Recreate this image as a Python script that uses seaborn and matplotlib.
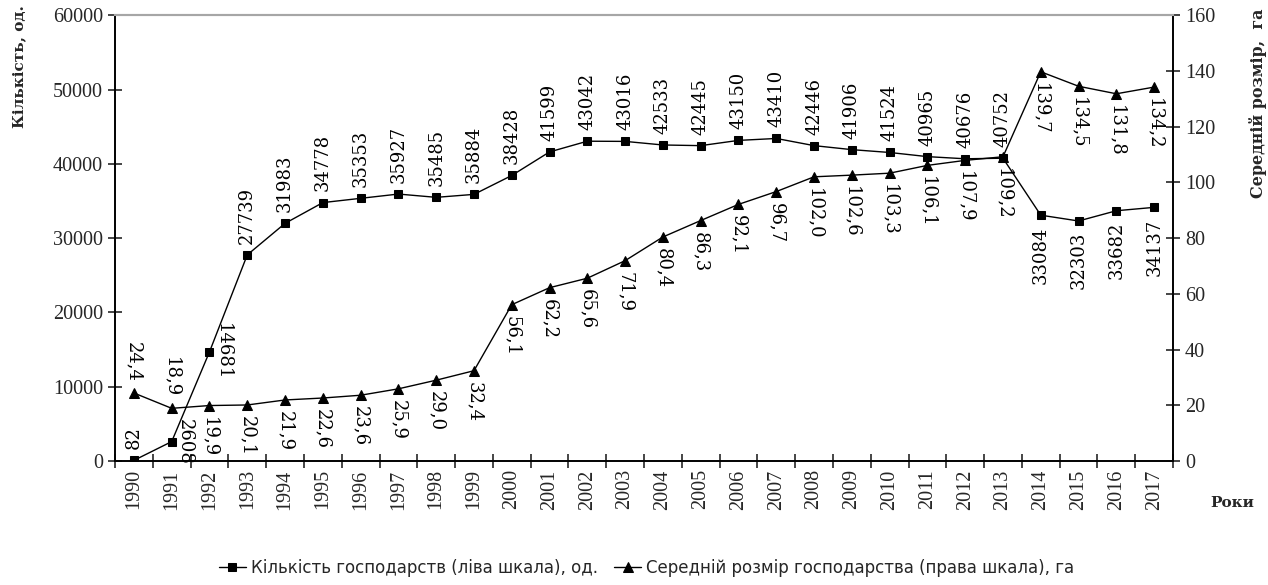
import numpy as np
import pandas as pd
import seaborn as sns
import matplotlib.pyplot as plt
from matplotlib.ticker import MultipleLocator, FixedLocator

# data
years = list(range(1990, 2018))
farms_count = [82, 2608, 14681, 27739, 31983, 34778, 35353, 35927, 35485, 35884,
               38428, 41599, 43042, 43016, 42533, 42445, 43150, 43410, 42446, 41906,
               41524, 40965, 40676, 40752, 33084, 32303, 33682, 34137]
avg_size = [24.4, 18.9, 19.9, 20.1, 21.9, 22.6, 23.6, 25.9, 29.0, 32.4,
            56.1, 62.2, 65.6, 71.9, 80.4, 86.3, 92.1, 96.7, 102.0, 102.6,
            103.3, 106.1, 107.9, 109.2, 139.7, 134.5, 131.8, 134.2]
count_name = "Кількість господарств (ліва шкала), од."
size_name = "Середній розмір господарства (права шкала), га"
left_title = "Кількість, од."
right_title = "Середній розмір,  га"
x_title = "Роки"

sns.set_style("ticks")
plt.rcParams['font.family'] = ['Liberation Serif', 'DejaVu Serif']
plt.rcParams['axes.linewidth'] = 1.2

df = pd.DataFrame({
    'pos': np.arange(len(years)),
    'year': years,
    'count': farms_count,
    'size': avg_size,
})

fig = plt.figure(figsize=(12.68, 5.85), dpi=100)
ax = fig.add_axes([0.0907, 0.212, 0.8344, 0.762])
ax2 = ax.twinx()

sns.lineplot(data=df, x='pos', y='count', ax=ax, color='black', marker='s',
             markersize=6, markeredgecolor='black', linewidth=1.0)
sns.lineplot(data=df, x='pos', y='size', ax=ax2, color='black', marker='^',
             markersize=7, markeredgecolor='black', linewidth=1.0)
count_line = ax.lines[-1]
size_line = ax2.lines[-1]

ax.set_xlim(-0.5, len(years) - 0.5)
ax.set_ylim(0, 60000)
ax2.set_ylim(0, 160)
ax.yaxis.set_major_locator(MultipleLocator(10000))
ax2.yaxis.set_major_locator(MultipleLocator(20))

ax.set_xticks(df['pos'])
ax.set_xticklabels(df['year'], rotation=90, fontsize=14.5)
ax.xaxis.set_minor_locator(FixedLocator(np.arange(len(years) + 1) - 0.5))
ax.tick_params(axis='x', which='major', length=0, pad=6)
ax.tick_params(axis='x', which='minor', direction='inout', length=10, width=1.2)
ax.tick_params(axis='y', direction='inout', length=10, width=1.2, labelsize=14.5)
ax2.tick_params(axis='y', direction='inout', length=10, width=1.2, labelsize=14.5)
ax.set_xlabel('')
ax.set_ylabel('')
ax2.set_ylabel('')

for a in (ax, ax2):
    for side in ('left', 'right', 'bottom'):
        a.spines[side].set_color('black')
    a.spines['top'].set_color('#a6a6a6')
    a.spines['top'].set_linewidth(1.5)

# value labels
ann_font = dict(fontsize=13, family=['DejaVu Serif'], color='black')
for p, yr, v in zip(df['pos'], years, farms_count):
    if yr in (1991, 1992):
        ax.annotate(str(v), (p, v), xytext=(3, 0), textcoords='offset points',
                    rotation=-90, ha='left', va='center', **ann_font)
    elif yr >= 2014:
        ax.annotate(str(v), (p, v), xytext=(0, -8), textcoords='offset points',
                    rotation=90, ha='center', va='top', **ann_font)
    else:
        ax.annotate(str(v), (p, v), xytext=(0, 8), textcoords='offset points',
                    rotation=90, ha='center', va='bottom', **ann_font)

for p, yr, v in zip(df['pos'], years, avg_size):
    txt = f"{v:.1f}".replace('.', ',')
    if yr in (1990, 1991):
        ax2.annotate(txt, (p, v), xytext=(0, 8), textcoords='offset points',
                     rotation=-90, ha='center', va='bottom', **ann_font)
    else:
        ax2.annotate(txt, (p, v), xytext=(0, -8), textcoords='offset points',
                     rotation=-90, ha='center', va='top', **ann_font)

fig.text(19 / 1268, 1 - 5 / 585, left_title, rotation=90, ha='center', va='top',
         fontsize=11, fontweight='bold', family=['DejaVu Serif'])
fig.text(1258 / 1268, 1 - 8 / 585, right_title, rotation=90, ha='center', va='top',
         fontsize=11.5, fontweight='bold', family=['DejaVu Serif'])
fig.text(1232 / 1268, 1 - 503 / 585, x_title, ha='center', va='center',
         fontsize=11, fontweight='bold', family=['DejaVu Serif'])

fig.legend([count_line, size_line], [count_name, size_name], loc='center',
           bbox_to_anchor=(0.51, 1 - 568 / 585), ncol=2, frameon=False,
           handlelength=1.6, handletextpad=0.3, columnspacing=1.0,
           prop={'family': ['Liberation Sans Narrow', 'DejaVu Sans'], 'size': 12})

fig.savefig('out.png', dpi=100)
